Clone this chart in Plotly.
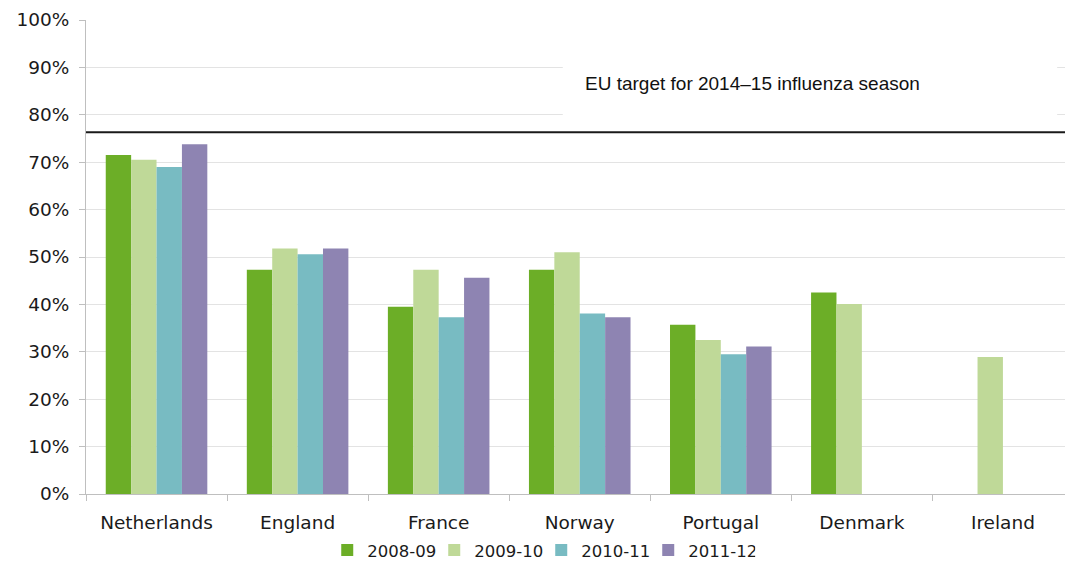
import plotly.graph_objects as go

countries = ["Netherlands", "England", "France", "Norway", "Portugal", "Denmark", "Ireland"]
seasons = ["2008-09", "2009-10", "2010-11", "2011-12"]
v_2008_09 = [71.5, 47.3, 39.5, 47.3, 35.7, 42.5, None]
v_2009_10 = [70.5, 51.8, 47.3, 51.0, 32.5, 40.1, 28.9]
v_2010_11 = [69.0, 50.6, 37.3, 38.1, 29.5, None, None]
v_2011_12 = [73.8, 51.8, 45.6, 37.3, 31.1, None, None]
target_value = 76.3
target_label = "EU target for 2014–15 influenza season"
y_ticks = [0, 10, 20, 30, 40, 50, 60, 70, 80, 90, 100]
y_ticktext = [f"{v}%" for v in y_ticks]

colors = ["#6CAE27", "#BFD998", "#78BBC2", "#8E84B2"]
series = [v_2008_09, v_2009_10, v_2010_11, v_2011_12]

fig = go.Figure()
for name, vals, col in zip(seasons, series, colors):
    fig.add_trace(go.Bar(x=countries, y=vals, name=name, marker=dict(color=col, line=dict(width=0))))

font_main = "DejaVu Sans"
fig.update_layout(
    width=1065, height=564,
    margin=dict(l=86, r=0, t=20, b=70, autoexpand=False),
    paper_bgcolor="white", plot_bgcolor="white",
    barmode="group", bargap=0.28, bargroupgap=0,
    font=dict(family=font_main, size=18, color="#1A1A1A"),
    showlegend=True,
    legend=dict(orientation="h", x=0.465, xanchor="center", y=-0.082, yanchor="top",
                font=dict(family=font_main, size=16.5, color="#1A1A1A"),
                itemwidth=30, entrywidth=62, entrywidthmode="pixels", traceorder="normal"),
    xaxis=dict(range=[-0.5, 6.44], showgrid=False, showline=True, linecolor="#BFBFBF", linewidth=1,
               ticks="outside", tickson="boundaries", ticklen=6, tickcolor="#BFBFBF",
               ticklabelstandoff=12,
               tickfont=dict(family=font_main, size=18.5, color="#1A1A1A"), fixedrange=True),
    yaxis=dict(range=[0, 100], tickmode="array", tickvals=y_ticks, ticktext=y_ticktext,
               showgrid=True, gridcolor="#E3E3E3",
               gridwidth=1, showline=True, linecolor="#BFBFBF", linewidth=1, ticks="outside",
               ticklen=6, tickcolor="#BFBFBF", zeroline=False, ticklabelstandoff=6,
               tickfont=dict(family=font_main, size=18.5, color="#1A1A1A"), fixedrange=True),
)

# white box behind the label, covering gridlines
fig.add_shape(type="rect", xref="paper", yref="y", x0=0.487, x1=0.992, y0=79.2, y1=91.6,
              fillcolor="white", line=dict(width=0), layer="above")
# target line
fig.add_shape(type="line", xref="paper", yref="y", x0=0, x1=1, y0=target_value, y1=target_value,
              line=dict(color="#1A1A1A", width=2), layer="above")
fig.add_annotation(xref="paper", yref="y", x=0.5077, y=86.7, xanchor="left", yanchor="middle",
                   text=target_label, showarrow=False,
                   font=dict(family="Liberation Sans", size=19, color="#111111"))

fig.write_html("out.html", post_script="document.body.style.margin='0';",
               config={"displayModeBar": False})
